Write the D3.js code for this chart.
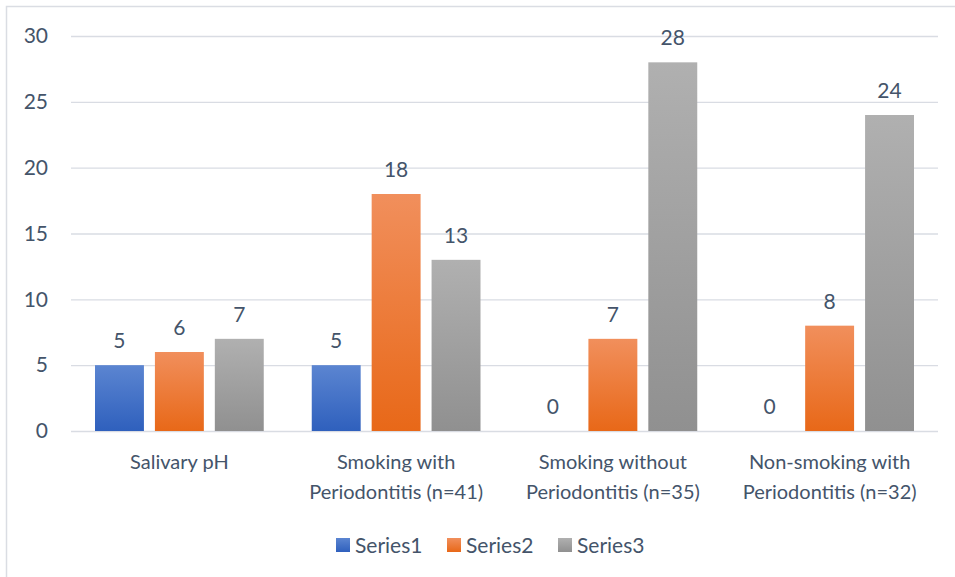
<!DOCTYPE html>
<html>
<head>
<meta charset="utf-8">
<script src="https://cdn.jsdelivr.net/npm/d3@7"></script>
<style>
  html, body { margin: 0; padding: 0; background: #fff; }
  svg { display: block; font-family: Lato, 'Open Sans', sans-serif; }
</style>
</head>
<body>
<svg width="955" height="577"></svg>
<script>
const categories = [
  ['Salivary pH'],
  ['Smoking with', 'Periodontitis (n=41)'],
  ['Smoking without', 'Periodontitis (n=35)'],
  ['Non-smoking with', 'Periodontitis (n=32)']
]
const seriesNames = ['Series1', 'Series2', 'Series3']
const series1 = [5, 5, 0, 0]
const series2 = [6, 18, 7, 8]
const series3 = [7, 13, 28, 24]
const yTicks = [0, 5, 10, 15, 20, 25, 30]

const values = [series1, series2, series3]
const colors = [
  ['#5b85d1', '#2f60bd'],
  ['#f18f5c', '#e86818'],
  ['#b0b0b0', '#909090']
]
const textColor = '#44546a'

const svg = d3.select('svg')

// chart border (only left and top visible in the crop)
svg.append('rect')
  .attr('x', 6.5).attr('y', 6.5)
  .attr('width', 1000).attr('height', 1000)
  .attr('fill', 'none')
  .attr('stroke', '#dadde3')
  .attr('stroke-width', 1.5)

const defs = svg.append('defs')
colors.forEach((c, i) => {
  const g = defs.append('linearGradient')
    .attr('id', 'grad' + i)
    .attr('x1', 0).attr('y1', 0).attr('x2', 0).attr('y2', 1)
  g.append('stop').attr('offset', '0%').attr('stop-color', c[0])
  g.append('stop').attr('offset', '100%').attr('stop-color', c[1])
})

const plotLeft = 71, plotRight = 938, plotTop = 36, plotBottom = 431

const x = d3.scaleBand().domain(d3.range(categories.length)).range([plotLeft, plotRight])
const xs = d3.scaleBand().domain(d3.range(seriesNames.length))
  .range([24, x.bandwidth() - 24]).paddingInner(11 / 60)
const y = d3.scaleLinear().domain([0, 30]).range([plotBottom, plotTop])

// gridlines + y labels
const yAxis = svg.append('g')
  .attr('transform', `translate(${plotLeft},0)`)
  .call(d3.axisLeft(y).tickValues(yTicks).tickSize(-(plotRight - plotLeft)).tickPadding(23))
yAxis.select('.domain').remove()
yAxis.selectAll('.tick line').attr('stroke', '#d9dce3').attr('stroke-width', 1.4)
yAxis.selectAll('.tick text')
  .attr('fill', textColor)
  .style('font-size', '21px')
  .style('font-family', 'Lato, sans-serif')

// bars
const groups = svg.append('g').selectAll('g')
  .data(categories)
  .join('g')
  .attr('transform', (d, i) => `translate(${x(i)},0)`)

seriesNames.forEach((s, si) => {
  groups.append('rect')
    .attr('x', xs(si))
    .attr('width', xs.bandwidth())
    .attr('y', (d, ci) => y(values[si][ci]))
    .attr('height', (d, ci) => y(0) - y(values[si][ci]))
    .attr('fill', `url(#grad${si})`)
  groups.append('text')
    .attr('x', xs(si) + xs.bandwidth() / 2)
    .attr('y', (d, ci) => y(values[si][ci]) - 17)
    .attr('text-anchor', 'middle')
    .attr('fill', textColor)
    .style('font-size', '21px')
    .text((d, ci) => values[si][ci])
})

// category labels
groups.append('text')
  .attr('text-anchor', 'middle')
  .attr('fill', textColor)
  .style('font-size', '20px')
  .selectAll('tspan')
  .data(d => d)
  .join('tspan')
  .attr('x', x.bandwidth() / 2)
  .attr('y', (d, i) => 469 + i * 30)
  .text(d => d)

// legend
const legendX = [336, 447, 558]
const legend = svg.append('g').selectAll('g')
  .data(seriesNames)
  .join('g')
  .attr('transform', (d, i) => `translate(${legendX[i]},538)`)
legend.append('rect')
  .attr('width', 14).attr('height', 14)
  .attr('fill', (d, i) => `url(#grad${i})`)
legend.append('text')
  .attr('x', 19).attr('y', 14.5)
  .attr('fill', textColor)
  .style('font-size', '21px')
  .text(d => d)
</script>
</body>
</html>
